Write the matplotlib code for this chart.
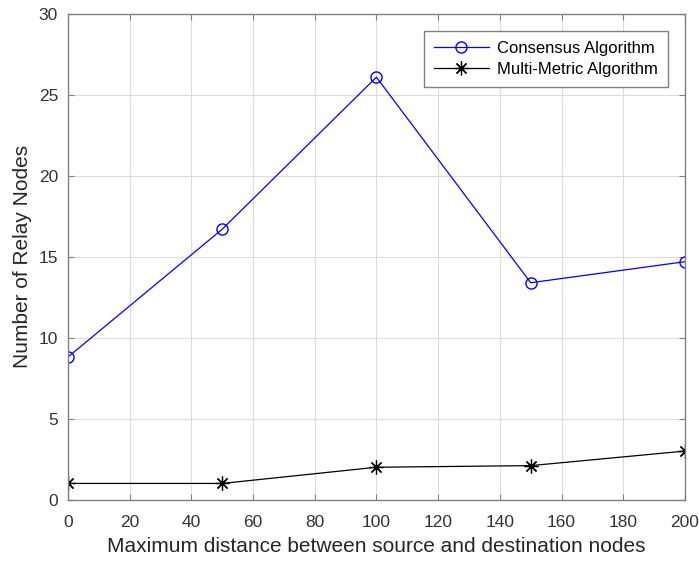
import matplotlib
matplotlib.use('Agg')
import matplotlib.pyplot as plt

distance = [0, 50, 100, 150, 200]
consensus = [8.8, 16.7, 26.1, 13.4, 14.7]
multi_metric = [1.0, 1.0, 2.0, 2.1, 3.0]

plt.rcParams['font.family'] = ['Liberation Sans', 'DejaVu Sans']

fig = plt.figure(figsize=(6.99, 5.62), dpi=100)
ax = fig.add_axes([0.097, 0.111, 0.883, 0.864])

ax.plot(distance, consensus, color='#0000ff', linewidth=0.9, marker='o',
        markersize=8, markerfacecolor='none', markeredgewidth=1.0,
        label='Consensus Algorithm')
ax.plot(distance, multi_metric, color='black', linewidth=0.9, marker=(8, 2, 0),
        markersize=10, markeredgewidth=0.9,
        label='Multi-Metric Algorithm')

ax.set_xlim(0, 200)
ax.set_ylim(0, 30)
ax.set_xticks(range(0, 201, 20))
ax.set_yticks(range(0, 31, 5))
ax.grid(True, color='#dcdcdc', linewidth=0.8)
ax.set_axisbelow(True)
for s in ax.spines.values():
    s.set_color('#808080')
    s.set_linewidth(1.0)
ax.tick_params(colors='#333333', labelsize=12.5, direction='in', length=4,
               top=True, right=True, labeltop=False, labelright=False)
ax.tick_params(axis='x', pad=11)
ax.tick_params(axis='y', pad=7)
ax.tick_params(axis='both', color='#808080')

ax.set_xlabel('Maximum distance between source and destination nodes',
              fontsize=15, color='#262626', labelpad=5)
ax.set_ylabel('Number of Relay Nodes', fontsize=15, color='#262626', labelpad=5)

leg = ax.legend(loc='upper right', bbox_to_anchor=(0.986, 0.983), fontsize=12,
                fancybox=False, edgecolor='#808080', framealpha=1,
                handlelength=3.3, borderpad=0.6, labelspacing=0.4,
                handletextpad=0.5)
leg.get_frame().set_linewidth(1.0)

plt.savefig('out.png', dpi=100)
